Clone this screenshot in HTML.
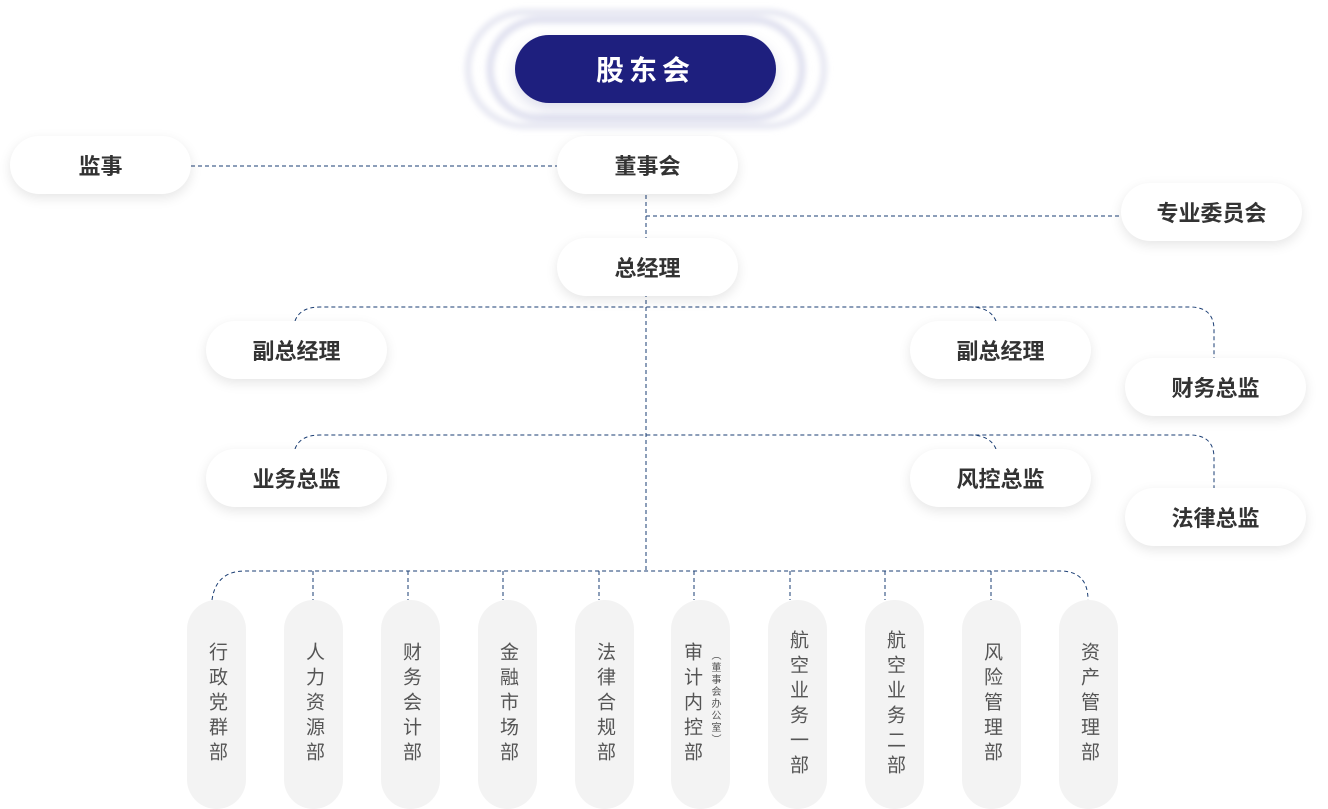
<!DOCTYPE html>
<html><head><meta charset="utf-8"><style>
body{margin:0;width:1328px;height:809px;background:#fff;position:relative;overflow:hidden;font-family:"Liberation Sans","Noto Sans CJK SC",sans-serif}
.n{position:absolute;background:#fff;border-radius:30px;box-shadow:0 4px 12px rgba(0,0,0,0.10);display:flex;align-items:center;justify-content:center;font-size:22px;color:#333;font-weight:bold;height:58px;width:181px}
.v{position:absolute;top:600px;width:59px;height:209px;border-radius:30px;background:#f3f3f3}
.t{position:absolute;top:642px;writing-mode:vertical-rl;text-orientation:upright;color:#555;font-size:19px;letter-spacing:6px;line-height:20px}
svg{position:absolute;left:0;top:0}
</style></head><body>
<svg width="1328" height="809">
<defs><filter id="b"><feGaussianBlur stdDeviation="3"/></filter></defs>
<g filter="url(#b)">
<rect x="468" y="12" width="356" height="114" rx="57" fill="none" stroke="#dfe0ee" stroke-width="6" opacity="0.8"/>
<rect x="490" y="20" width="312" height="98" rx="49" fill="none" stroke="#dcdded" stroke-width="7" opacity="0.9"/>
</g>
<g fill="none" stroke="#1a3d73" stroke-width="1" stroke-dasharray="4,3">
<path d="M191 166H557"/>
<path d="M646 195V571"/>
<path d="M646 216H1121"/>
<path d="M295 321Q300 307 320 307H1190Q1214 307 1214 330V358"/>
<path d="M996 321Q990 307 970 307"/>
<path d="M295 449Q300 435 320 435H1190Q1214 435 1214 458V488"/>
<path d="M996 449Q990 435 970 435"/>
<path d="M212 600Q216 571 245 571H1060Q1088 571 1088 600"/>
<path d="M313 571V600M408 571V600M503 571V600M599 571V600M694 571V600M790 571V600M885 571V600M991 571V600"/>
</g>
</svg>
<div class="n" style="left:515px;top:35px;width:261px;height:68px;border-radius:34px;background:#1e1f7e;color:#fff;font-size:28px;letter-spacing:5px;box-shadow:0 6px 14px rgba(30,31,126,0.15)">股东会</div>
<div class="n" style="left:10px;top:136px">监事</div>
<div class="n" style="left:557px;top:136px">董事会</div>
<div class="n" style="left:1121px;top:183px">专业委员会</div>
<div class="n" style="left:557px;top:238px">总经理</div>
<div class="n" style="left:206px;top:321px">副总经理</div>
<div class="n" style="left:910px;top:321px">副总经理</div>
<div class="n" style="left:1125px;top:358px">财务总监</div>
<div class="n" style="left:206px;top:449px">业务总监</div>
<div class="n" style="left:910px;top:449px">风控总监</div>
<div class="n" style="left:1125px;top:488px">法律总监</div>
<div class="v" style="left:187px"></div><div class="t" style="left:206px">行政党群部</div>
<div class="v" style="left:284px"></div><div class="t" style="left:303px">人力资源部</div>
<div class="v" style="left:381px"></div><div class="t" style="left:400px">财务会计部</div>
<div class="v" style="left:478px"></div><div class="t" style="left:497px">金融市场部</div>
<div class="v" style="left:575px"></div><div class="t" style="left:594px">法律合规部</div>
<div class="v" style="left:671px"></div><div class="t" style="left:681px">审计内控部</div>
<div class="t" style="left:708px;top:650px;font-size:10px;letter-spacing:2px;line-height:12px">（董事会办公室）</div>
<div class="v" style="left:768px"></div><div class="t" style="left:787px;top:630px">航空业务一部</div>
<div class="v" style="left:865px"></div><div class="t" style="left:884px;top:630px">航空业务二部</div>
<div class="v" style="left:962px"></div><div class="t" style="left:981px">风险管理部</div>
<div class="v" style="left:1059px"></div><div class="t" style="left:1078px">资产管理部</div>
</body></html>
